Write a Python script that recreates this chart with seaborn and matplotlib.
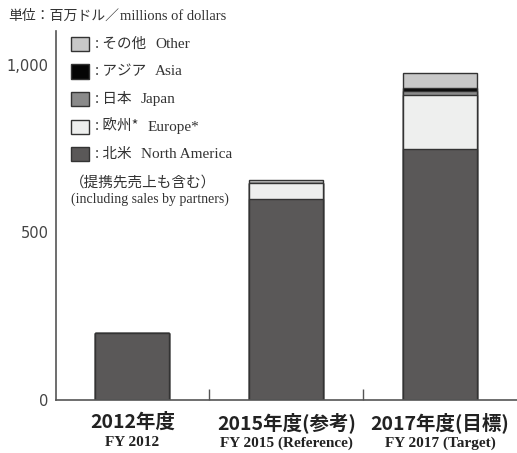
import matplotlib
matplotlib.use("Agg")
import matplotlib.pyplot as plt
from matplotlib.patches import Rectangle
import seaborn as sns
import numpy as np

# ---- data ----
categories = ["FY2012", "FY2015", "FY2017"]
cat_labels_ja = ["2012年度", "2015年度(参考)", "2017年度(目標)"]
cat_labels_en = ["FY 2012", "FY 2015 (Reference)", "FY 2017 (Target)"]
north_america = [200, 600, 750]
europe = [0, 47, 160]
japan = [0, 0, 12]
asia = [0, 0, 8]
other = [0, 11, 47]
series_ja = ["北米", "欧州*", "日本", "アジア", "その他"]
series_en = ["North America", "Europe*", "Japan", "Asia", "Other"]
yticks = [0, 500, 1000]
ytick_labels = ["0", "500", "1,000"]

colors = ["#5a5858", "#eeefee", "#8a8a8a", "#050505", "#c8c8c8"]

sns.set_theme(style="white")
plt.rcParams["font.family"] = ["Noto Sans CJK JP", "DejaVu Sans"]

W, H = 517, 453
fig = plt.figure(figsize=(W / 100, H / 100), dpi=100)

def fx(x):
    return x / W

def fy(y):
    return 1 - y / H

ax_left, ax_right, ax_bottom, ax_top = 55.5, 517, 400, 31.5
ax = fig.add_axes([fx(ax_left), fy(ax_bottom), fx(ax_right - ax_left), (ax_bottom - ax_top) / H])

layers = [north_america, europe, japan, asia, other]
cum = np.cumsum(np.array(layers, dtype=float), axis=0)
# draw from top-most cumulative to bottom
for i in range(len(layers) - 1, -1, -1):
    sns.barplot(x=categories, y=cum[i], color=colors[i], saturation=1,
                width=0.48, edgecolor="#333333", linewidth=1.0, ax=ax)

ax.set_xlim(-0.5, 2.5)
ax.set_ylim(0, 1100)
ax.set_yticks(yticks)
ax.set_yticklabels(ytick_labels)
ax.tick_params(axis="y", direction="in", length=7, width=1, color="#555555",
               labelsize=10.5, labelcolor="#444444", pad=5)
for lab in ax.get_yticklabels():
    lab.set_family(["DejaVu Sans"])
ax.set_xticks([0, 1, 2])
ax.set_xticklabels([])
ax.set_xticks([0.5, 1.5], minor=True)
ax.tick_params(axis="x", which="major", length=0)
ax.tick_params(axis="x", which="minor", direction="in", length=8, width=1,
               color="#555555", bottom=True)
ax.set_xlabel("")
ax.set_ylabel("")
for s in ["top", "right"]:
    ax.spines[s].set_visible(False)
for s in ["left", "bottom"]:
    ax.spines[s].set_color("#555555")
    ax.spines[s].set_linewidth(1.2)

# category labels
for i in range(3):
    ax.text(i, -0.033, cat_labels_ja[i], transform=ax.get_xaxis_transform(),
            ha="center", va="top", fontsize=14, fontweight="bold", color="#222222",
            family=["Noto Sans CJK JP", "DejaVu Sans"])
    ax.text(i, -0.098, cat_labels_en[i], transform=ax.get_xaxis_transform(),
            ha="center", va="top", fontsize=11, fontweight="bold", color="#222222",
            family=["Liberation Serif"])

renderer = fig.canvas.get_renderer()

# title
t1 = fig.text(fx(8), fy(16), "単位：百万ドル／", ha="left", va="center",
              fontsize=10, color="#333333", family=["Noto Sans CJK JP"])
bb = t1.get_window_extent(renderer)
fig.text(bb.x1 / W + fx(1), fy(16), "millions of dollars", ha="left", va="center",
         fontsize=10.5, color="#333333", family=["Liberation Serif"])

# legend (top to bottom: Other, Asia, Japan, Europe, North America)
row_y = [44, 71.5, 99, 127, 154]
order = [4, 3, 2, 1, 0]
for r, idx in enumerate(order):
    yc = row_y[r]
    fig.add_artist(Rectangle((fx(71), fy(yc + 7)), fx(18), 14 / H,
                             transform=fig.transFigure, facecolor=colors[idx],
                             edgecolor="#333333", linewidth=1.0))
    tj = fig.text(fx(95), fy(yc), ": " + series_ja[idx], ha="left", va="center",
                  fontsize=10.5, color="#333333", family=["Noto Sans CJK JP", "DejaVu Sans"])
    bbj = tj.get_window_extent(renderer)
    fig.text(bbj.x1 / W + fx(9), fy(yc), series_en[idx], ha="left", va="center",
             fontsize=11, color="#333333", family=["Liberation Serif"])

fig.text(fx(70), fy(183), "（提携先売上も含む）", ha="left", va="center",
         fontsize=10.5, color="#333333", family=["Noto Sans CJK JP"])
fig.text(fx(71), fy(199.5), "(including sales by partners)", ha="left", va="center",
         fontsize=10, color="#333333", family=["Liberation Serif"])

fig.savefig("out.png", dpi=100)
